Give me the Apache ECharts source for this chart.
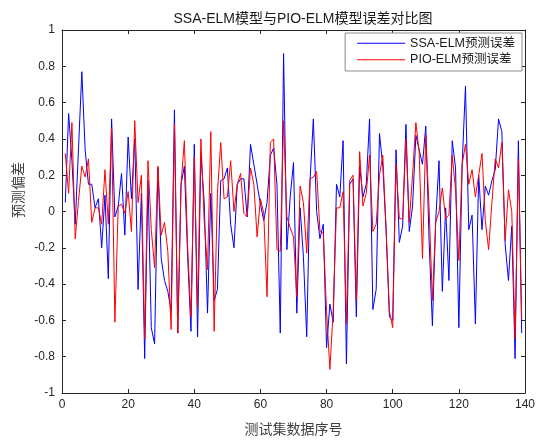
<!DOCTYPE html>
<html>
<head>
<meta charset="utf-8">
<script src="https://cdn.jsdelivr.net/npm/echarts@6/dist/echarts.min.js"></script>
<style>
html,body{margin:0;padding:0;background:#fff;}
#c{width:545px;height:441px;}
</style>
</head>
<body>
<div id="c"></div>
<script>
const titleText = 'SSA-ELM模型与PIO-ELM模型误差对比图';
const xName = '测试集数据序号';
const yName = '预测偏差';
const seriesNames = ['SSA-ELM预测误差', 'PIO-ELM预测误差'];
const xTicks = [0, 20, 40, 60, 80, 100, 120, 140];
const yTicks = [-1, -0.8, -0.6, -0.4, -0.2, 0, 0.2, 0.4, 0.6, 0.8, 1];

const ssaErr = [
 0.05, 0.54, 0.28, -0.07, 0.35, 0.77, 0.34, 0.15, 0.15, 0.02,
 0.07, -0.20, 0.09, -0.37, 0.51, -0.03, 0.03, 0.21, -0.13, 0.41,
 0.07, 0.40, -0.43, 0.10, -0.81, 0.17, -0.64, -0.73, 0.24, -0.26,
 -0.38, -0.44, -0.55, 0.56, -0.67, 0.15, 0.25, -0.25, -0.66, 0.37,
 -0.69, 0.32, 0.05, -0.56, 0.10, -0.49, -0.43, 0.17, 0.18, 0.24,
 -0.07, -0.20, 0.15, 0.18, 0.18, -0.03, 0.37, 0.26, 0.15, 0.04,
 -0.05, 0.05, 0.31, 0.35, 0.15, -0.67, 0.87, -0.21, 0.08, 0.27,
 -0.56, 0.02, -0.25, -0.69, 0.17, 0.51, 0.00, -0.15, -0.07, -0.75,
 -0.51, -0.61, 0.15, 0.08, 0.39, -0.84, 0.15, 0.18, -0.58, 0.25,
 0.08, 0.15, 0.51, -0.54, -0.43, 0.43, 0.25, -0.10, -0.58, -0.60,
 0.34, -0.17, -0.08, 0.48, -0.11, 0.03, 0.42, 0.34, 0.26, 0.47,
 -0.16, -0.63, -0.05, 0.28, -0.44, 0.02, -0.38, 0.39, 0.24, -0.64,
 0.26, 0.69, -0.10, -0.02, -0.62, 0.20, -0.10, 0.14, 0.09, 0.17,
 0.23, 0.51, 0.44, -0.18, -0.38, -0.08, -0.81, 0.39, -0.67
];
const pioErr = [
 0.32, 0.10, 0.49, -0.15, 0.06, 0.25, 0.19, 0.29, -0.06, 0.02,
 0.02, -0.07, 0.23, -0.07, 0.46, -0.61, 0.03, 0.04, -0.01, 0.11,
 -0.11, 0.50, 0.05, 0.20, -0.70, 0.28, -0.10, -0.31, 0.25, -0.13,
 -0.06, -0.22, -0.65, 0.48, -0.67, 0.15, 0.39, -0.20, -0.58, 0.30,
 -0.53, 0.40, -0.05, -0.32, 0.44, -0.66, 0.10, 0.38, 0.07, 0.08,
 0.28, 0.00, 0.15, 0.21, -0.01, -0.03, 0.24, 0.15, -0.14, 0.07,
 -0.01, -0.47, 0.38, 0.40, -0.21, -0.22, 0.50, -0.03, -0.09, -0.14,
 -0.47, 0.14, 0.05, -0.23, 0.18, 0.19, 0.22, -0.11, -0.12, -0.55,
 -0.87, -0.55, 0.02, 0.02, 0.11, -0.62, 0.17, 0.20, -0.49, 0.33,
 0.03, 0.10, 0.31, -0.11, -0.07, 0.20, 0.31, -0.10, -0.55, -0.64,
 0.26, -0.04, -0.04, 0.40, -0.06, 0.20, 0.49, 0.33, -0.26, 0.42,
 0.02, -0.49, -0.06, 0.00, 0.13, -0.04, -0.02, 0.31, 0.12, -0.27,
 0.26, 0.37, 0.15, 0.23, 0.08, 0.20, 0.32, -0.05, -0.21, 0.05,
 0.29, 0.24, 0.38, -0.16, 0.12, 0.00, -0.70, 0.29, -0.59
];

const toPairs = arr => arr.map((v, i) => [i + 1, v]);
const axisColor = '#262626';
const latin = "'Liberation Sans', Arial, 'Noto Sans CJK SC', sans-serif";
const cjk = "'Noto Sans CJK SC', sans-serif";

const baseX = {
  type: 'value', min: xTicks[0], max: xTicks[xTicks.length - 1],
  interval: xTicks[1] - xTicks[0],
  axisLine: { show: true, onZero: false, lineStyle: { color: axisColor, width: 1 } },
  axisTick: { show: true, inside: true, length: 4, lineStyle: { color: axisColor } },
  splitLine: { show: false }
};
const baseY = {
  type: 'value', min: yTicks[0], max: yTicks[yTicks.length - 1],
  interval: 0.2,
  axisLine: { show: true, onZero: false, lineStyle: { color: axisColor, width: 1 } },
  axisTick: { show: true, inside: true, length: 4, lineStyle: { color: axisColor } },
  splitLine: { show: false }
};

const chart = echarts.init(document.getElementById('c'), null, { renderer: 'canvas' });
chart.setOption({
  animation: false,
  backgroundColor: '#ffffff',
  title: {
    text: titleText, left: 298, top: 7, textAlign: 'center',
    textStyle: { fontFamily: latin, fontSize: 14, fontWeight: 'normal', color: '#1a1a1a' }
  },
  legend: {
    orient: 'vertical', right: 23, top: 33,
    backgroundColor: '#ffffff', borderColor: '#8c8c8c', borderWidth: 1,
    padding: [4, 7, 5, 12], itemGap: 4,
    itemWidth: 48, itemHeight: 1, icon: 'rect',
    textStyle: { fontFamily: latin, fontSize: 12.5, color: '#1a1a1a' },
    data: seriesNames
  },
  graphic: [{
    type: 'text', x: 18, y: 190, rotation: Math.PI / 2,
    style: { text: yName, font: "14px 'Noto Sans CJK SC', sans-serif", fill: '#404040',
             textAlign: 'center', textVerticalAlign: 'middle' }
  }],
  grid: { left: 62, right: 20, top: 30, bottom: 45, containLabel: false },
  xAxis: [
    Object.assign({}, baseX, {
      position: 'bottom',
      name: xName, nameLocation: 'middle', nameGap: 29,
      nameTextStyle: { fontFamily: cjk, fontSize: 14, color: '#404040' },
      axisLabel: { show: true, margin: 6, color: axisColor, fontFamily: latin, fontSize: 12 }
    }),
    Object.assign({}, baseX, { position: 'top', axisLabel: { show: false } })
  ],
  yAxis: [
    Object.assign({}, baseY, {
      position: 'left',
      axisLabel: {
        show: true, margin: 7, color: axisColor, fontFamily: latin, fontSize: 12,
        formatter: v => String(Math.round(v * 10) / 10)
      }
    }),
    Object.assign({}, baseY, { position: 'right', axisLabel: { show: false } })
  ],
  series: [
    {
      name: seriesNames[0], type: 'line', data: toPairs(ssaErr),
      showSymbol: false, symbol: 'none',
      lineStyle: { color: '#0000ff', width: 1 }, itemStyle: { color: '#0000ff' }, z: 2
    },
    {
      name: seriesNames[1], type: 'line', data: toPairs(pioErr),
      showSymbol: false, symbol: 'none',
      lineStyle: { color: '#ff0000', width: 1 }, itemStyle: { color: '#ff0000' }, z: 3
    }
  ]
});
</script>
</body>
</html>
